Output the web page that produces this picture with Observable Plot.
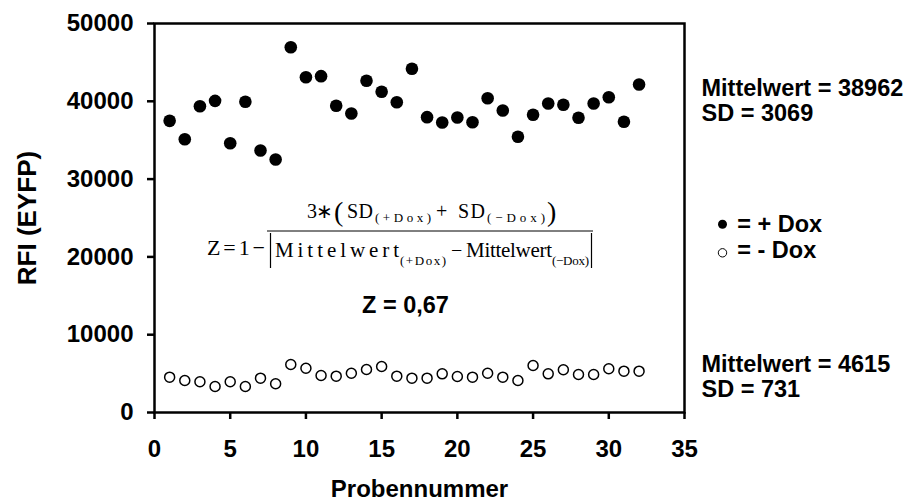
<!DOCTYPE html>
<html><head><meta charset="utf-8">
<script src="https://cdn.jsdelivr.net/npm/d3@7"></script>
<script src="https://cdn.jsdelivr.net/npm/@observablehq/plot@0.6"></script>
<style>
body{margin:0;background:#fff}
svg{display:block}
[aria-label="y-axis label"]{font-size:26px}
</style>
</head><body><div id="chart"></div>
<script>
const sampleNumbers = [1,2,3,4,5,6,7,8,9,10,11,12,13,14,15,16,17,18,19,20,21,22,23,24,25,26,27,28,29,30,31,32];
const rfiPlusDox = [37490,35130,39370,40060,34610,39940,33680,32520,46950,43100,43230,39420,38430,42640,41220,39880,44180,37960,37280,37920,37310,40400,38820,35440,38270,39720,39550,37880,39720,40530,37370,42160];
const rfiMinusDox = [4540,4110,3950,3340,3950,3340,4410,3690,6170,5690,4760,4670,5050,5530,5910,4670,4410,4410,4970,4630,4540,5050,4540,4110,6040,4970,5490,4880,4880,5620,5310,5310];
const xTicks = [0,5,10,15,20,25,30,35];
const yTicks = [0,10000,20000,30000,40000,50000];
const xLabel = "Probennummer";
const yLabel = "RFI (EYFP)";
const statsPlus = "Mittelwert = 38962\nSD = 3069";
const statsMinus = "Mittelwert = 4615\nSD = 731";
const legendPlus = "= + Dox";
const legendMinus = "= - Dox";
const zValueLabel = "Z = 0,67";

const plus = sampleNumbers.map((n, i) => ({n, v: rfiPlusDox[i]}));
const minus = sampleNumbers.map((n, i) => ({n, v: rfiMinusDox[i]}));
const sans = "'Liberation Sans', Arial, Helvetica, sans-serif";
const fs = 23.5;

const plot = Plot.plot({
  width: 911, height: 502,
  marginLeft: 154, marginRight: 227, marginTop: 23, marginBottom: 90,
  style: {fontFamily: sans, fontWeight: "bold", fontSize: "24px", color: "black", background: "white"},
  x: {domain: [0, 35]},
  y: {domain: [0, 50000]},
  marks: [
    Plot.axisX({ticks: xTicks, tickSize: 7, tickPadding: 20, tickFormat: d => String(d), fontSize: 24, fontWeight: "bold", strokeWidth: 2.5,
      label: xLabel, labelAnchor: "center", labelOffset: 84, labelArrow: false}),
    Plot.axisY({ticks: yTicks, tickSize: 7, tickPadding: 14, tickFormat: d => String(d), fontSize: 24, fontWeight: "bold", strokeWidth: 2.5,
      label: yLabel, labelAnchor: "center", labelOffset: 137, labelArrow: false}),
    Plot.frame({stroke: "black", strokeWidth: 2.5}),
    Plot.dot(minus, {x: "n", y: "v", r: 5, stroke: "black", strokeWidth: 1.5, fill: "white"}),
    Plot.dot(plus, {x: "n", y: "v", r: 6.3, fill: "black"}),
    Plot.text([statsPlus], {text: d => d, frameAnchor: "top-right", textAnchor: "start", lineAnchor: "top", lineHeight: 25 / fs, dx: 17, dy: 54.3, fontSize: fs, fontWeight: "bold", fill: "black"}),
    Plot.text([statsMinus], {text: d => d, frameAnchor: "top-right", textAnchor: "start", lineAnchor: "top", lineHeight: 25 / fs, dx: 17, dy: 331, fontSize: fs, fontWeight: "bold", fill: "black"}),
    Plot.dot([legendPlus], {frameAnchor: "top-right", dx: 38, dy: 200.8, r: 4.5, fill: "black"}),
    Plot.dot([legendMinus], {frameAnchor: "top-right", dx: 38, dy: 229.3, r: 4.2, fill: "white", stroke: "black", strokeWidth: 1}),
    Plot.text([legendPlus], {text: d => d, frameAnchor: "top-right", textAnchor: "start", lineAnchor: "top", dx: 52.7, dy: 192, fontSize: fs, fontWeight: "bold", fill: "black"}),
    Plot.text([legendMinus], {text: d => d, frameAnchor: "top-right", textAnchor: "start", lineAnchor: "top", dx: 52.7, dy: 218.3, fontSize: fs, fontWeight: "bold", fill: "black"}),
    Plot.text([zValueLabel], {text: d => d, frameAnchor: "top", textAnchor: "middle", lineAnchor: "top", dx: -14, dy: 273.3, fontSize: fs, fontWeight: "bold", fill: "black"})
  ]
});
document.getElementById("chart").appendChild(plot);

// Formula annotation (serif, equation-editor style)
const serif = "'Liberation Serif', 'Times New Roman', Times, serif";
const formulaPieces = [
  {t: "Z=1\u2212", x: 207, y: 255, s: 22, len: 58},
  {t: "3\u2217", x: 307, y: 218, s: 20, len: 26},
  {t: "(", x: 334, y: 221, s: 28},
  {t: "SD", x: 347, y: 218, s: 20, len: 26},
  {t: "(+Dox)", x: 375, y: 221.7, s: 13, len: 56},
  {t: "+", x: 436, y: 218, s: 20},
  {t: "SD", x: 458, y: 218, s: 20, len: 27},
  {t: "(\u2212Dox)", x: 487, y: 221.7, s: 13, len: 58},
  {t: ")", x: 547, y: 221, s: 28},
  {t: "Mittelwert", x: 275, y: 256.7, s: 21, len: 124},
  {t: "(+Dox)", x: 400, y: 265, s: 13, len: 46},
  {t: "\u2212", x: 451, y: 256.7, s: 20},
  {t: "Mittelwert", x: 466, y: 256.7, s: 21, len: 86},
  {t: "(\u2212Dox)", x: 552, y: 265, s: 13, len: 37}
];
const g = d3.select(plot).append("g")
  .attr("font-family", serif).attr("font-weight", "normal").attr("font-size", 20)
  .attr("text-anchor", "start").attr("fill", "black");
for (const p of formulaPieces) {
  const el = g.append("text").attr("x", p.x).attr("y", p.y).attr("font-size", p.s).attr("text-anchor", "start").text(p.t);
  if (p.len) el.attr("textLength", p.len).attr("lengthAdjust", "spacing");
}
g.append("line").attr("x1", 267).attr("x2", 593).attr("y1", 231).attr("y2", 231).attr("stroke", "black").attr("stroke-width", 1);
g.append("line").attr("x1", 270.5).attr("x2", 270.5).attr("y1", 233).attr("y2", 268).attr("stroke", "black").attr("stroke-width", 1.2);
g.append("line").attr("x1", 591.5).attr("x2", 591.5).attr("y1", 233).attr("y2", 268).attr("stroke", "black").attr("stroke-width", 1.2);
</script>
</body></html>
